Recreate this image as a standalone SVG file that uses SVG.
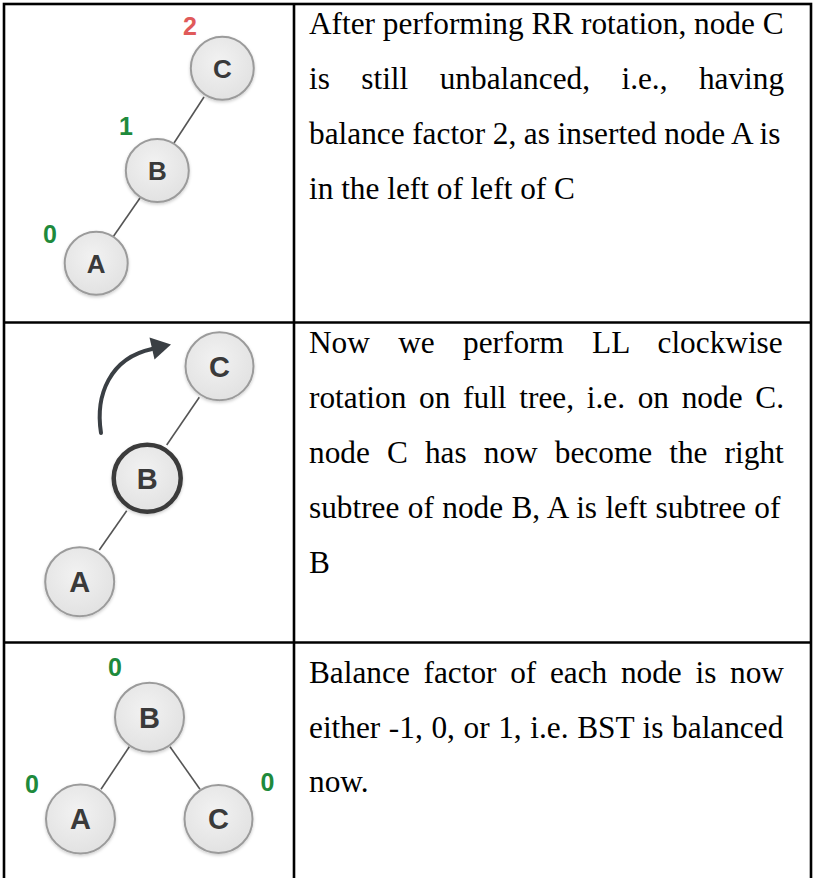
<svg xmlns="http://www.w3.org/2000/svg" width="813" height="878" viewBox="0 0 813 878">
<style>
  .grid { fill: none; stroke: #000; stroke-width: 2.6; }
  .para { font-family: "Liberation Serif", "Times New Roman", serif; font-size: 31.3px; fill: #000; }
  .nc { fill: url(#ng); stroke: #9b9b9b; stroke-width: 2; filter: url(#sh); }
  .ncb { fill: url(#ng); stroke: #3a3a3a; stroke-width: 4.5; filter: url(#sh); }
  .nl { font-family: "Liberation Sans", Arial, sans-serif; font-weight: bold; fill: #3a3a3a; text-anchor: middle; }
  .s1 { font-size: 26px; }
  .s2 { font-size: 29px; }
  .bf { font-family: "Liberation Sans", Arial, sans-serif; font-weight: bold; font-size: 25px; text-anchor: middle; }
  .g { fill: #1e8a3c; }
  .r { fill: #e05a5a; }
  .edge { stroke: #555; stroke-width: 1.6; fill: none; }
  .rot { stroke: #3a3f44; stroke-width: 4; fill: none; stroke-linecap: round; }
</style>
<defs>
  <radialGradient id="ng" cx="0.45" cy="0.4" r="0.6">
    <stop offset="0" stop-color="#f2f2f2"/>
    <stop offset="1" stop-color="#e2e2e2"/>
  </radialGradient>
  <filter id="sh" x="-30%" y="-30%" width="160%" height="160%">
    <feDropShadow dx="0" dy="1.5" stdDeviation="1.5" flood-color="#000" flood-opacity="0.2"/>
  </filter>
</defs>
<rect width="813" height="878" fill="#fff"/>

<g id="table">
  <rect class="grid" x="4" y="4" width="807" height="890"/>
  <line class="grid" x1="294" y1="4" x2="294" y2="878"/>
  <line class="grid" x1="4" y1="322.5" x2="811" y2="322.5"/>
  <line class="grid" x1="4" y1="642.5" x2="811" y2="642.5"/>
</g>

<g id="connectors">
  <line class="edge" x1="174" y1="143" x2="204" y2="97"/>
  <line class="edge" x1="113" y1="237" x2="140" y2="198"/>
  <line class="edge" x1="166.7" y1="445" x2="199.3" y2="397.3"/>
  <line class="edge" x1="99.3" y1="550" x2="126.7" y2="510.7"/>
  <line class="edge" x1="129.3" y1="746.7" x2="101" y2="789.3"/>
  <line class="edge" x1="170" y1="746.7" x2="200" y2="789.3"/>
  <g id="rotation-arrow">
    <path class="rot" d="M101,433 C95,395 110,358 152,349"/>
    <polygon points="171,344.5 149.5,337.5 154.5,359.5" fill="#3a3f44"/>
  </g>
</g>

<!-- Row 1 -->
<g id="r1-C"><circle class="nc" cx="222.3" cy="68.3" r="31.5"/><text class="nl s1" x="222.3" y="77.6">C</text></g>
<g id="r1-B"><circle class="nc" cx="157.3" cy="170.5" r="31.5"/><text class="nl s1" x="157.3" y="179.8">B</text></g>
<g id="r1-A"><circle class="nc" cx="96.2" cy="263.3" r="31.5"/><text class="nl s1" x="96.2" y="272.6">A</text></g>
<g id="r1-labels">
  <text class="bf r" x="190" y="35">2</text>
  <text class="bf g" x="126" y="135">1</text>
  <text class="bf g" x="50" y="243">0</text>
</g>

<!-- Row 2 -->
<g id="r2-C"><circle class="nc" cx="219.5" cy="366.3" r="34"/><text class="nl s2" x="219.5" y="376.7">C</text></g>
<g id="r2-B"><circle class="ncb" cx="147.2" cy="478.3" r="33.5"/><text class="nl s2" x="147.2" y="488.7">B</text></g>
<g id="r2-A"><circle class="nc" cx="79.7" cy="581.7" r="34.5"/><text class="nl s2" x="79.7" y="592.1">A</text></g>

<!-- Row 3 -->
<g id="r3-B"><circle class="nc" cx="149.5" cy="717.2" r="34.5"/><text class="nl s2" x="149.5" y="727.6">B</text></g>
<g id="r3-A"><circle class="nc" cx="80.5" cy="819" r="34.5"/><text class="nl s2" x="80.5" y="829.4">A</text></g>
<g id="r3-C"><circle class="nc" cx="218.5" cy="819" r="34"/><text class="nl s2" x="218.5" y="829.4">C</text></g>
<g id="r3-labels">
  <text class="bf g" x="115" y="676">0</text>
  <text class="bf g" x="32" y="793">0</text>
  <text class="bf g" x="267.5" y="791">0</text>
</g>

<g id="text-row1" class="para">
  <text x="309" y="34.3">After performing RR rotation, node C</text>
  <text x="309" y="89.3" word-spacing="23.6">is still unbalanced, i.e., having</text>
  <text x="309" y="144" word-spacing="-0.2">balance factor 2, as inserted node A is</text>
  <text x="309" y="199">in the left of left of C</text>
</g>
<g id="text-row2" class="para">
  <text x="309" y="352.7" word-spacing="20.5">Now we perform LL clockwise</text>
  <text x="309" y="407.6" word-spacing="4.9">rotation on full tree, i.e. on node C.</text>
  <text x="309" y="462.6" word-spacing="9.3">node C has now become the right</text>
  <text x="309" y="517.6" word-spacing="0.58">subtree of node B, A is left subtree of</text>
  <text x="309" y="572.6">B</text>
</g>
<g id="text-row3" class="para">
  <text x="309" y="682.7" word-spacing="5.87">Balance factor of each node is now</text>
  <text x="309" y="737.5" word-spacing="0.8">either -1, 0, or 1, i.e. BST is balanced</text>
  <text x="309" y="792.3">now.</text>
</g>
</svg>
